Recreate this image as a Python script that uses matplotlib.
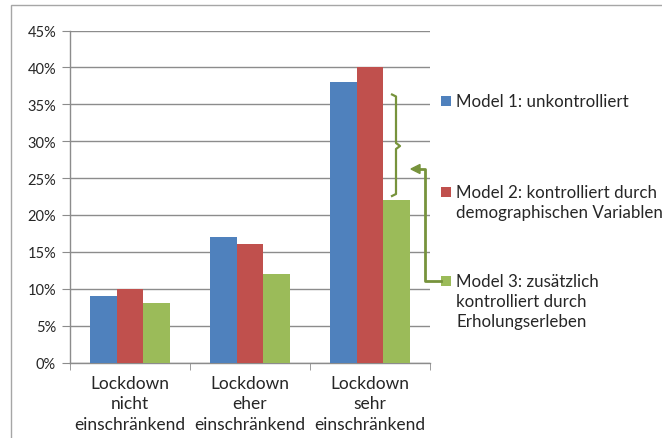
import matplotlib
matplotlib.use("Agg")
import matplotlib.pyplot as plt
from matplotlib.lines import Line2D
from matplotlib.patches import Rectangle
import numpy as np

categories = ["Lockdown\nnicht\neinschränkend", "Lockdown\neher\neinschränkend", "Lockdown\nsehr\neinschränkend"]
series_names = ["Model 1: unkontrolliert",
                "Model 2: kontrolliert durch\ndemographischen Variablen",
                "Model 3: zusätzlich\nkontrolliert durch\nErholungserleben"]
model1 = [0.09, 0.17, 0.38]
model2 = [0.10, 0.16, 0.40]
model3 = [0.08, 0.12, 0.22]
y_ticks = [0, 0.05, 0.10, 0.15, 0.20, 0.25, 0.30, 0.35, 0.40, 0.45]

colors = ["#4F81BD", "#C0504D", "#9BBB59"]
ann_color = "#77933C"
txt_color = "#262626"
FONT = ["Lato", "DejaVu Sans"]
plt.rcParams["font.family"] = FONT

W, H = 662, 439
fig = plt.figure(figsize=(W / 100, H / 100), dpi=100)

def px(x, y):
    return (x / W, 1 - y / H)

# outer chart border
fig.patches.append(Rectangle(px(11, 445), (W + 10) / W, (445 - 5.5) / H, transform=fig.transFigure,
                             fill=False, edgecolor="#A6A6A6", linewidth=1.0))

ax_l, ax_r, ax_t, ax_b = 70, 430, 31.5, 363.5
ax = fig.add_axes([ax_l / W, 1 - ax_b / H, (ax_r - ax_l) / W, (ax_b - ax_t) / H])

x = np.arange(len(categories))
bw = 1 / 4.5
for i, (vals, c) in enumerate(zip([model1, model2, model3], colors)):
    ax.bar(x + (i - 1) * bw, vals, width=bw, color=c, zorder=3, linewidth=0)

ax.set_xlim(-0.5, len(categories) - 0.5)
ax.set_ylim(0, 0.45)
ax.set_yticks(y_ticks)
ax.set_yticklabels([f"{int(round(t * 100))}%" for t in y_ticks], fontsize=10.5, color=txt_color)
ax.yaxis.grid(True, color="#8C8C8C", linewidth=1.0, zorder=0)
ax.set_axisbelow(True)
for s in ["top", "right"]:
    ax.spines[s].set_visible(False)
for s in ["left", "bottom"]:
    ax.spines[s].set_color("#8C8C8C")
    ax.spines[s].set_linewidth(1.0)
ax.tick_params(axis="y", length=6, color="#8C8C8C", pad=4)
ax.set_xticks(x)
ax.set_xticklabels(categories, fontsize=12.5, color=txt_color, linespacing=1.33)
ax.tick_params(axis="x", length=0, pad=9)
ax.set_xticks(np.arange(-0.5, len(categories)), minor=True)
ax.tick_params(axis="x", which="minor", length=5, color="#8C8C8C")

# legend (manual, Excel-like)
leg_base = [107, 198, 287]
for name, c, lb in zip(series_names, colors, leg_base):
    fig.patches.append(Rectangle(px(441, lb + 0), 10.5 / W, 10.5 / H, transform=fig.transFigure,
                                 facecolor=c, edgecolor="none"))
    for k, line in enumerate(name.split("\n")):
        fig.text(*px(456, lb + 20 * k), line, fontsize=12.2, color=txt_color,
                 va="baseline", ha="left")

# curly bracket
br = [(392, 95.5), (396, 97.5), (396, 144), (400, 147), (396, 150), (396, 195), (392, 197)]
fig.lines.append(Line2D([px(*p)[0] for p in br], [px(*p)[1] for p in br], transform=fig.transFigure,
                        color=ann_color, linewidth=1.6, solid_joinstyle="round"))

# elbow arrow from legend entry 3
el = [(441, 282), (425, 282), (425, 170), (418, 170)]
fig.lines.append(Line2D([px(*p)[0] for p in el], [px(*p)[1] for p in el], transform=fig.transFigure,
                        color=ann_color, linewidth=2.0))
fig.add_artist(plt.Polygon([px(411, 170), px(420, 165.5), px(420, 174.5)], closed=True,
                           transform=fig.transFigure, color=ann_color))

fig.savefig("out.png", dpi=100)
